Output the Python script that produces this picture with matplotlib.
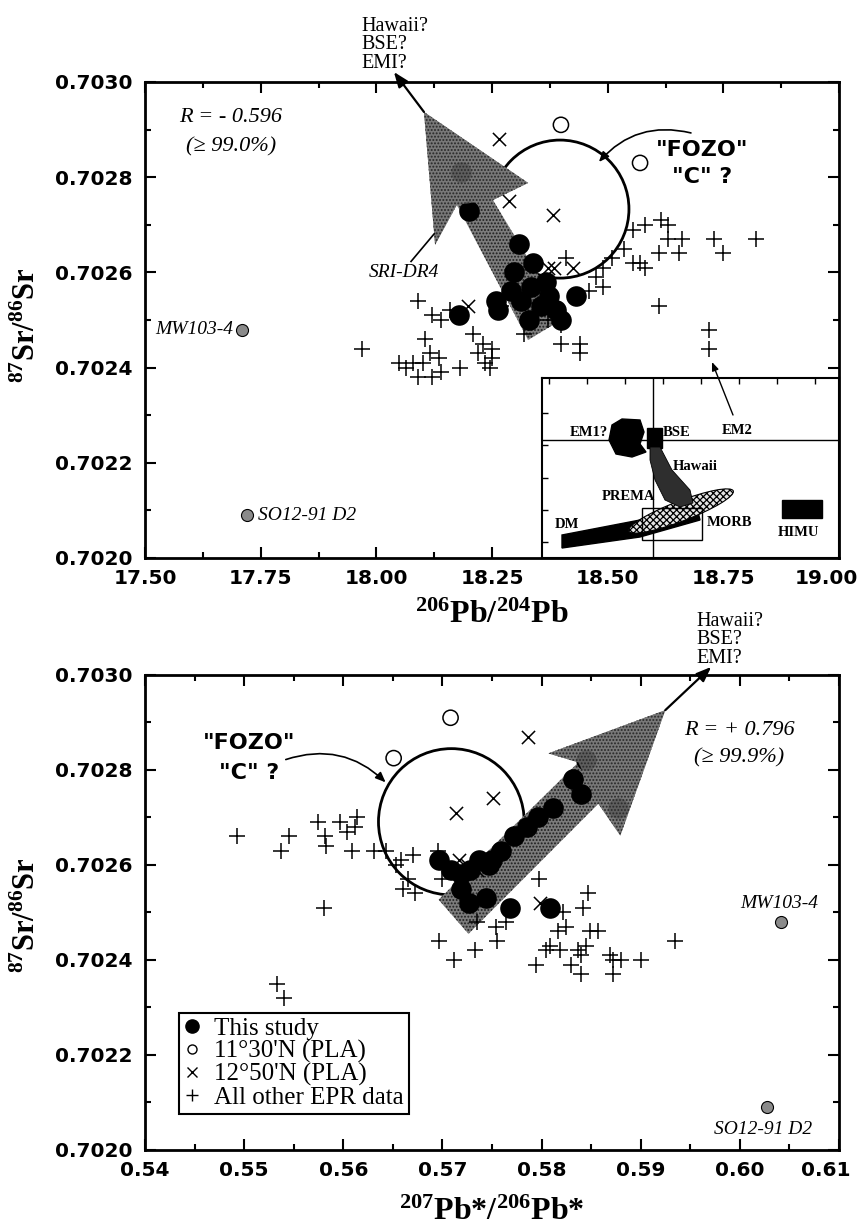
import matplotlib
matplotlib.use('Agg')
import matplotlib.pyplot as plt
from matplotlib.patches import Polygon, Ellipse, Rectangle
from matplotlib.lines import Line2D
from matplotlib.ticker import MultipleLocator, FormatStrFormatter
from matplotlib.transforms import ScaledTranslation

plt.rcParams['mathtext.fontset'] = 'custom'
plt.rcParams['mathtext.rm'] = 'Liberation Serif:bold'
plt.rcParams['mathtext.it'] = 'Liberation Serif:italic:bold'
plt.rcParams['mathtext.bf'] = 'Liberation Serif:bold'
plt.rcParams['mathtext.default'] = 'rm'
plt.rcParams['hatch.linewidth'] = 0.9

SERIF = 'Liberation Serif'
SANS = 'DejaVu Sans'

# ---------------- data: top panel (206Pb/204Pb vs 87Sr/86Sr) ----------------
study_pb206 = [18.179, 18.259, 18.263, 18.291, 18.313, 18.334, 18.356, 18.373, 18.388,
               18.399, 18.330, 18.432, 18.367, 18.308, 18.339, 18.200, 18.298, 18.183]
study_sr_a = [0.70251, 0.70254, 0.70252, 0.70256, 0.70254, 0.70257, 0.70253, 0.70255, 0.70252,
              0.70250, 0.70250, 0.70255, 0.70258, 0.70266, 0.70262, 0.70273, 0.70260, 0.70281]
pla1130_pb206 = [18.399, 18.570]
pla1130_sr_a = [0.70291, 0.70283]
pla1250_pb206 = [18.265, 18.287, 18.382, 18.371, 18.384, 18.425, 18.198]
pla1250_sr_a = [0.70288, 0.70275, 0.70272, 0.70261, 0.70261, 0.70261, 0.70253]
epr_pb206 = [17.97, 18.05, 18.065, 18.08, 18.09, 18.10, 18.115, 18.12, 18.135, 18.14,
             18.09, 18.12, 18.14, 18.16, 18.105, 18.21, 18.23, 18.25, 18.22, 18.235,
             18.245, 18.18, 18.25, 18.27, 18.32, 18.37, 18.40, 18.40, 18.44, 18.44,
             18.41, 18.46, 18.475, 18.49, 18.49, 18.51, 18.535, 18.555, 18.57, 18.58,
             18.555, 18.58, 18.615, 18.63, 18.63, 18.66, 18.61, 18.655, 18.73, 18.75,
             18.82, 18.61, 18.72, 18.72]
epr_sr_a = [0.70244, 0.70241, 0.70240, 0.70241, 0.70238, 0.70241, 0.70243, 0.70238, 0.70242, 0.70239,
            0.70254, 0.70251, 0.70250, 0.70252, 0.70246, 0.70247, 0.70245, 0.70244, 0.70243, 0.70241,
            0.70240, 0.70240, 0.70242, 0.70253, 0.70247, 0.70250, 0.70249, 0.70245, 0.70245, 0.70243,
            0.70263, 0.70256, 0.70259, 0.70257, 0.70261, 0.70263, 0.70265, 0.70262, 0.70262, 0.70261,
            0.70269, 0.70270, 0.70271, 0.70270, 0.70267, 0.70267, 0.70264, 0.70264, 0.70267, 0.70264,
            0.70267, 0.70253, 0.70248, 0.70244]
outlier_names = ['MW103-4', 'SO12-91 D2']
outlier_pb206 = [17.71, 17.72]
outlier_sr = [0.70248, 0.70209]

# ---------------- data: bottom panel (207Pb*/206Pb* vs 87Sr/86Sr) ----------------
study_pb76 = [0.56961, 0.57082, 0.57183, 0.57283, 0.57364, 0.57465, 0.57495, 0.57586, 0.57717,
              0.57848, 0.57968, 0.58120, 0.58321, 0.58401, 0.57686, 0.57263, 0.57435, 0.57183,
              0.58089, 0.58450, 0.58770]
study_sr_b = [0.70261, 0.70259, 0.70258, 0.70259, 0.70261, 0.70260, 0.70261, 0.70263, 0.70266,
              0.70268, 0.70270, 0.70272, 0.70278, 0.70275, 0.70251, 0.70252, 0.70253, 0.70255,
              0.70251, 0.70282, 0.70272]
pla1130_pb76 = [0.57082, 0.56508]
pla1130_sr_b = [0.70291, 0.702825]
pla1250_pb76 = [0.57868, 0.57515, 0.57132, 0.57163, 0.57243, 0.57989, 0.57350]
pla1250_sr_b = [0.70287, 0.70274, 0.70271, 0.70261, 0.70260, 0.70252, 0.70259]
epr_pb76 = [0.5493, 0.5533, 0.5540, 0.5537, 0.5545, 0.5575, 0.5582, 0.5583, 0.5597, 0.5604,
            0.5612, 0.5614, 0.5609, 0.5581, 0.5631, 0.5643, 0.5653, 0.5658, 0.5665, 0.5670,
            0.5660, 0.5672, 0.5696, 0.5700, 0.5697, 0.5712, 0.5735, 0.5733, 0.5754, 0.5755,
            0.5764, 0.5797, 0.5847, 0.5842, 0.5822, 0.5825, 0.5817, 0.5849, 0.5857, 0.5804,
            0.5809, 0.5819, 0.5837, 0.5845, 0.5840, 0.5840, 0.5869, 0.5872, 0.5880, 0.5900,
            0.5794, 0.5830, 0.5872, 0.5935]
epr_sr_b = [0.70266, 0.70235, 0.70232, 0.70263, 0.70266, 0.70269, 0.70266, 0.70264, 0.70269, 0.70267,
            0.70268, 0.70270, 0.70263, 0.70251, 0.70263, 0.70263, 0.70260, 0.70261, 0.70257, 0.70262,
            0.70255, 0.70254, 0.70263, 0.70257, 0.70244, 0.70240, 0.70248, 0.70242, 0.70247, 0.70244,
            0.70248, 0.70257, 0.70254, 0.70251, 0.70250, 0.70247, 0.70246, 0.70246, 0.70246, 0.70242,
            0.70243, 0.70242, 0.70242, 0.70243, 0.70241, 0.70237, 0.70241, 0.70240, 0.70240, 0.70240,
            0.70239, 0.70239, 0.70237, 0.70244]
outlier_pb76 = [0.6042, 0.6027]

# annotation geometry (schematic, in data units)
arrow_a = [(18.103, 0.702937), (18.328, 0.702788), (18.252, 0.702752), (18.406, 0.702504),
           (18.328, 0.702458), (18.174, 0.702742), (18.127, 0.702658)]
arrow_b = [(0.59248, 0.702926), (0.58794, 0.702662), (0.58573, 0.702729), (0.57263, 0.702455),
           (0.56961, 0.702527), (0.58371, 0.702816), (0.58069, 0.702835)]

W, H = 862, 1229
fig = plt.figure(figsize=(W / 100, H / 100), dpi=100)


def px_rect(l, t, r, b):
    return [l / W, 1 - b / H, (r - l) / W, (b - t) / H]


ax1 = fig.add_axes(px_rect(145, 82, 839, 558))
ax2 = fig.add_axes(px_rect(145, 675, 839, 1150))


def style(ax, xmaj, xmin, xfmt):
    ax.set_ylim(0.7020, 0.7030)
    ax.yaxis.set_major_locator(MultipleLocator(0.0002))
    ax.yaxis.set_minor_locator(MultipleLocator(0.0001))
    ax.yaxis.set_major_formatter(FormatStrFormatter('%.4f'))
    ax.xaxis.set_major_locator(MultipleLocator(xmaj))
    ax.xaxis.set_minor_locator(MultipleLocator(xmin))
    ax.xaxis.set_major_formatter(FormatStrFormatter(xfmt))
    for s in ax.spines.values():
        s.set_linewidth(2)
    ax.tick_params(which='both', direction='in', top=True, right=True, width=1.5)
    ax.tick_params(which='major', length=8, labelsize=14.5)
    ax.tick_params(which='minor', length=4)
    ax.tick_params(axis='x', pad=8)
    ax.tick_params(axis='y', pad=9)
    for lab in ax.get_xticklabels() + ax.get_yticklabels():
        lab.set_fontfamily(SANS)
        lab.set_fontweight('bold')


def draw_points(ax, sx, sy, ox, oy, xx, xy, px, py, arrow_pts, loop):
    ax.add_patch(Ellipse(loop[0], loop[1], loop[2], fill=False, lw=2, ec='k', zorder=2))
    ax.add_patch(Polygon(arrow_pts, closed=True, fc='#7c7c7c', ec='#1e1e1e', lw=0,
                         hatch='.....', zorder=3))
    ax.scatter(px, py, marker='+', s=130, c='k', lw=1.1, zorder=4)
    ax.scatter(xx, xy, marker='x', s=90, c='k', lw=1.1, zorder=4)
    ax.scatter(ox, oy, marker='o', s=120, facecolors='none', edgecolors='k', lw=1.1, zorder=4)
    ax.scatter(sx, sy, marker='o', s=220, c='k', lw=0, zorder=5)
    head = [arrow_pts[i] for i in (0, 1, 2, 5, 6)]
    ax.add_patch(Polygon(head, closed=True, fc='#777777', ec='#1e1e1e', lw=0, hatch='.....',
                         alpha=0.8, zorder=6))


# ---------------- top panel ----------------
ax1.set_xlim(17.50, 19.00)
style(ax1, 0.25, 0.125, '%.2f')
draw_points(ax1, study_pb206, study_sr_a, pla1130_pb206, pla1130_sr_a,
            pla1250_pb206, pla1250_sr_a, epr_pb206, epr_sr_a, arrow_a,
            ((18.397, 0.702733), 0.298, 0.000290))
ax1.scatter(outlier_pb206, outlier_sr, marker='o', s=75, fc='#8a8a8a', ec='k', lw=0.8, zorder=5)
ax1.text(17.69, outlier_sr[0], outlier_names[0], ha='right', va='center',
         fontfamily=SERIF, style='italic', fontsize=14)
ax1.text(17.745, outlier_sr[1], outlier_names[1], ha='left', va='center',
         fontfamily=SERIF, style='italic', fontsize=14)
ax1.annotate('', xy=(18.038, 0.703021), xytext=(18.103, 0.702937),
             arrowprops=dict(arrowstyle='-|>,head_length=0.9,head_width=0.35', lw=1.6,
                             color='k', shrinkA=0, shrinkB=0),
             annotation_clip=False, zorder=7)
ax1.text(17.967, 0.703078, 'Hawaii?\nBSE?\nEMI?', ha='left', va='center', linespacing=0.95,
         fontfamily=SERIF, fontsize=14.5, clip_on=False)
ax1.text(17.686, 0.702926, 'R = - 0.596', ha='center', va='center', fontfamily=SERIF,
         style='italic', fontsize=16)
ax1.text(17.686, 0.702863, '(≥ 99.0%)', ha='center', va='center', fontfamily=SERIF,
         style='italic', fontsize=16)
ax1.text(18.060, 0.702599, 'SRI-DR4', ha='center', va='center', fontfamily=SERIF,
         style='italic', fontsize=14)
ax1.plot([18.075, 18.125], [0.702623, 0.702681], color='k', lw=1.2, zorder=7)
ax1.text(18.705, 0.702857, '"FOZO"', ha='center', va='center', fontfamily=SANS,
         fontweight='bold', fontsize=16)
ax1.text(18.705, 0.702800, '"C" ?', ha='center', va='center', fontfamily=SANS,
         fontweight='bold', fontsize=16)
ax1.annotate('', xy=(18.481, 0.702832), xytext=(18.680, 0.702893),
             arrowprops=dict(arrowstyle='-|>,head_length=0.6,head_width=0.25', lw=1.2,
                             color='k', shrinkA=0, shrinkB=0,
                             connectionstyle='arc3,rad=0.3'))
ax1.set_xlabel(r'$^{206}$Pb/$^{204}$Pb', fontfamily=SERIF, fontweight='bold', fontsize=23)
ax1.xaxis.set_label_coords(0.5, -0.09)
ax1.set_ylabel(r'$^{87}$Sr/$^{86}$Sr', fontfamily=SERIF, fontweight='bold', fontsize=22)
ax1.yaxis.set_label_coords(-0.148, 0.49)

# ---------------- bottom panel ----------------
ax2.set_xlim(0.54, 0.61)
style(ax2, 0.01, 0.005, '%.2f')
draw_points(ax2, study_pb76, study_sr_b, pla1130_pb76, pla1130_sr_b,
            pla1250_pb76, pla1250_sr_b, epr_pb76, epr_sr_b, arrow_b,
            ((0.5709, 0.702691), 0.0147, 0.000308))
ax2.scatter(outlier_pb76, outlier_sr, marker='o', s=75, fc='#8a8a8a', ec='k', lw=0.8, zorder=5)
ax2.text(0.6040, 0.702518, outlier_names[0], ha='center', va='center',
         fontfamily=SERIF, style='italic', fontsize=14)
ax2.text(0.60235, 0.702044, outlier_names[1], ha='center', va='center',
         fontfamily=SERIF, style='italic', fontsize=14)
ax2.annotate('', xy=(0.59711, 0.703017), xytext=(0.59248, 0.702926),
             arrowprops=dict(arrowstyle='-|>,head_length=0.9,head_width=0.35', lw=1.6,
                             color='k', shrinkA=0, shrinkB=0),
             annotation_clip=False, zorder=7)
ax2.text(0.5956, 0.703074, 'Hawaii?\nBSE?\nEMI?', ha='left', va='center', linespacing=0.95,
         fontfamily=SERIF, fontsize=14.5, clip_on=False)
ax2.text(0.59993, 0.702884, 'R = + 0.796', ha='center', va='center', fontfamily=SERIF,
         style='italic', fontsize=16)
ax2.text(0.59993, 0.702825, '(≥ 99.9%)', ha='center', va='center', fontfamily=SERIF,
         style='italic', fontsize=16)
ax2.text(0.55047, 0.702856, '"FOZO"', ha='center', va='center', fontfamily=SANS,
         fontweight='bold', fontsize=16)
ax2.text(0.55047, 0.702793, '"C" ?', ha='center', va='center', fontfamily=SANS,
         fontweight='bold', fontsize=16)
ax2.annotate('', xy=(0.56427, 0.702774), xytext=(0.55420, 0.702822),
             arrowprops=dict(arrowstyle='-|>,head_length=0.6,head_width=0.25', lw=1.2,
                             color='k', shrinkA=0, shrinkB=0,
                             connectionstyle='arc3,rad=-0.3'))
ax2.set_xlabel(r'$^{207}$Pb*/$^{206}$Pb*', fontfamily=SERIF, fontweight='bold', fontsize=23)
ax2.xaxis.set_label_coords(0.5, -0.1)
ax2.set_ylabel(r'$^{87}$Sr/$^{86}$Sr', fontfamily=SERIF, fontweight='bold', fontsize=22)
ax2.yaxis.set_label_coords(-0.148, 0.495)

handles = [
    Line2D([], [], marker='o', ls='', color='k', markersize=9.5),
    Line2D([], [], marker='o', ls='', mfc='none', mec='k', markersize=6.5, mew=1),
    Line2D([], [], marker='x', ls='', color='k', markersize=6.5, mew=1),
    Line2D([], [], marker='+', ls='', color='k', markersize=8.5, mew=1),
]
labels = ['This study', "11°30'N (PLA)", "12°50'N (PLA)", 'All other EPR data']
leg = ax2.legend(handles, labels, loc='lower left', bbox_to_anchor=(0.049, 0.076),
                 frameon=True, fancybox=False, edgecolor='k', framealpha=1,
                 borderpad=0.2, handlelength=0.6, handletextpad=0.6, labelspacing=0.0,
                 borderaxespad=0, prop={'family': SERIF, 'size': 18})
leg.get_frame().set_linewidth(1.5)

# ---------------- inset (schematic mantle end-members) ----------------
axi = fig.add_axes(px_rect(542, 378, 839, 558))
axi.set_xlim(0, 297)
axi.set_ylim(0, 180)
for s in axi.spines.values():
    s.set_linewidth(1.5)
axi.xaxis.set_ticks_position('top')
axi.yaxis.set_ticks_position('left')
axi.set_xticks([7, 45, 83, 121, 159, 197, 235, 273])
axi.set_yticks([16, 48, 80, 113, 145])
axi.tick_params(direction='in', length=4, width=1, labeltop=False, labelleft=False,
                labelbottom=False)
axi.axhline(118, color='k', lw=1)
axi.axvline(111, color='k', lw=1)
axi.add_patch(Polygon([(20, 23), (98, 38), (155, 50), (158, 38), (98, 21), (20, 10)],
                      fc='k', ec='k', zorder=2))
axi.add_patch(Ellipse((139, 47), 112, 20, angle=21, fc='#e4e4e4', ec='k', lw=0.8,
                      hatch='xxxxx', zorder=3))
axi.add_patch(Rectangle((100, 18), 60, 32, fill=False, ec='k', lw=1, zorder=4))
axi.add_patch(Polygon([(70, 133), (80, 139), (98, 138), (102, 126), (98, 114), (104, 106),
                       (90, 101), (74, 104), (67, 118)], fc='k', ec='k', zorder=3))
axi.add_patch(Rectangle((105, 110), 15, 20, fc='k', ec='k', zorder=3))
axi.add_patch(Polygon([(108, 111), (118, 111), (130, 88), (148, 68), (151, 55), (138, 51),
                       (123, 58), (113, 78), (108, 98)], fc='#2e2e2e', ec='k', lw=0.6, zorder=3))
axi.add_patch(Rectangle((240, 40), 40, 18, fc='k', ec='k', zorder=3))
ikw = dict(fontfamily=SERIF, fontweight='bold', fontsize=10.5, va='center', zorder=5)
axi.text(66, 126, 'EM1?', ha='right', **ikw)
axi.text(121, 125, 'BSE', ha='left', **ikw)
axi.text(131, 91, 'Hawaii', ha='left', **ikw)
axi.text(180, 128, 'EM2', ha='left', **ikw)
axi.text(60, 61, 'PREMA', ha='left', **ikw)
axi.text(165, 35, 'MORB', ha='left', **ikw)
axi.text(13, 33, 'DM', ha='left', **ikw)
axi.text(236, 25, 'HIMU', ha='left', **ikw)
axi.annotate('', xy=(170, 196), xytext=(191, 143),
             arrowprops=dict(arrowstyle='-|>,head_length=0.5,head_width=0.2', lw=1,
                             color='k', shrinkA=0, shrinkB=0),
             annotation_clip=False)

# shift the last x tick label left so it stays inside the page
fig.canvas.draw()
for ax in (ax1, ax2):
    xmax = ax.get_xlim()[1]
    for tick in ax.xaxis.get_major_ticks():
        if abs(tick.get_loc() - xmax) < 1e-9:
            tick.label1.set_transform(tick.label1.get_transform() +
                                      ScaledTranslation(-0.13, 0, fig.dpi_scale_trans))

fig.savefig('out.png', dpi=100)
